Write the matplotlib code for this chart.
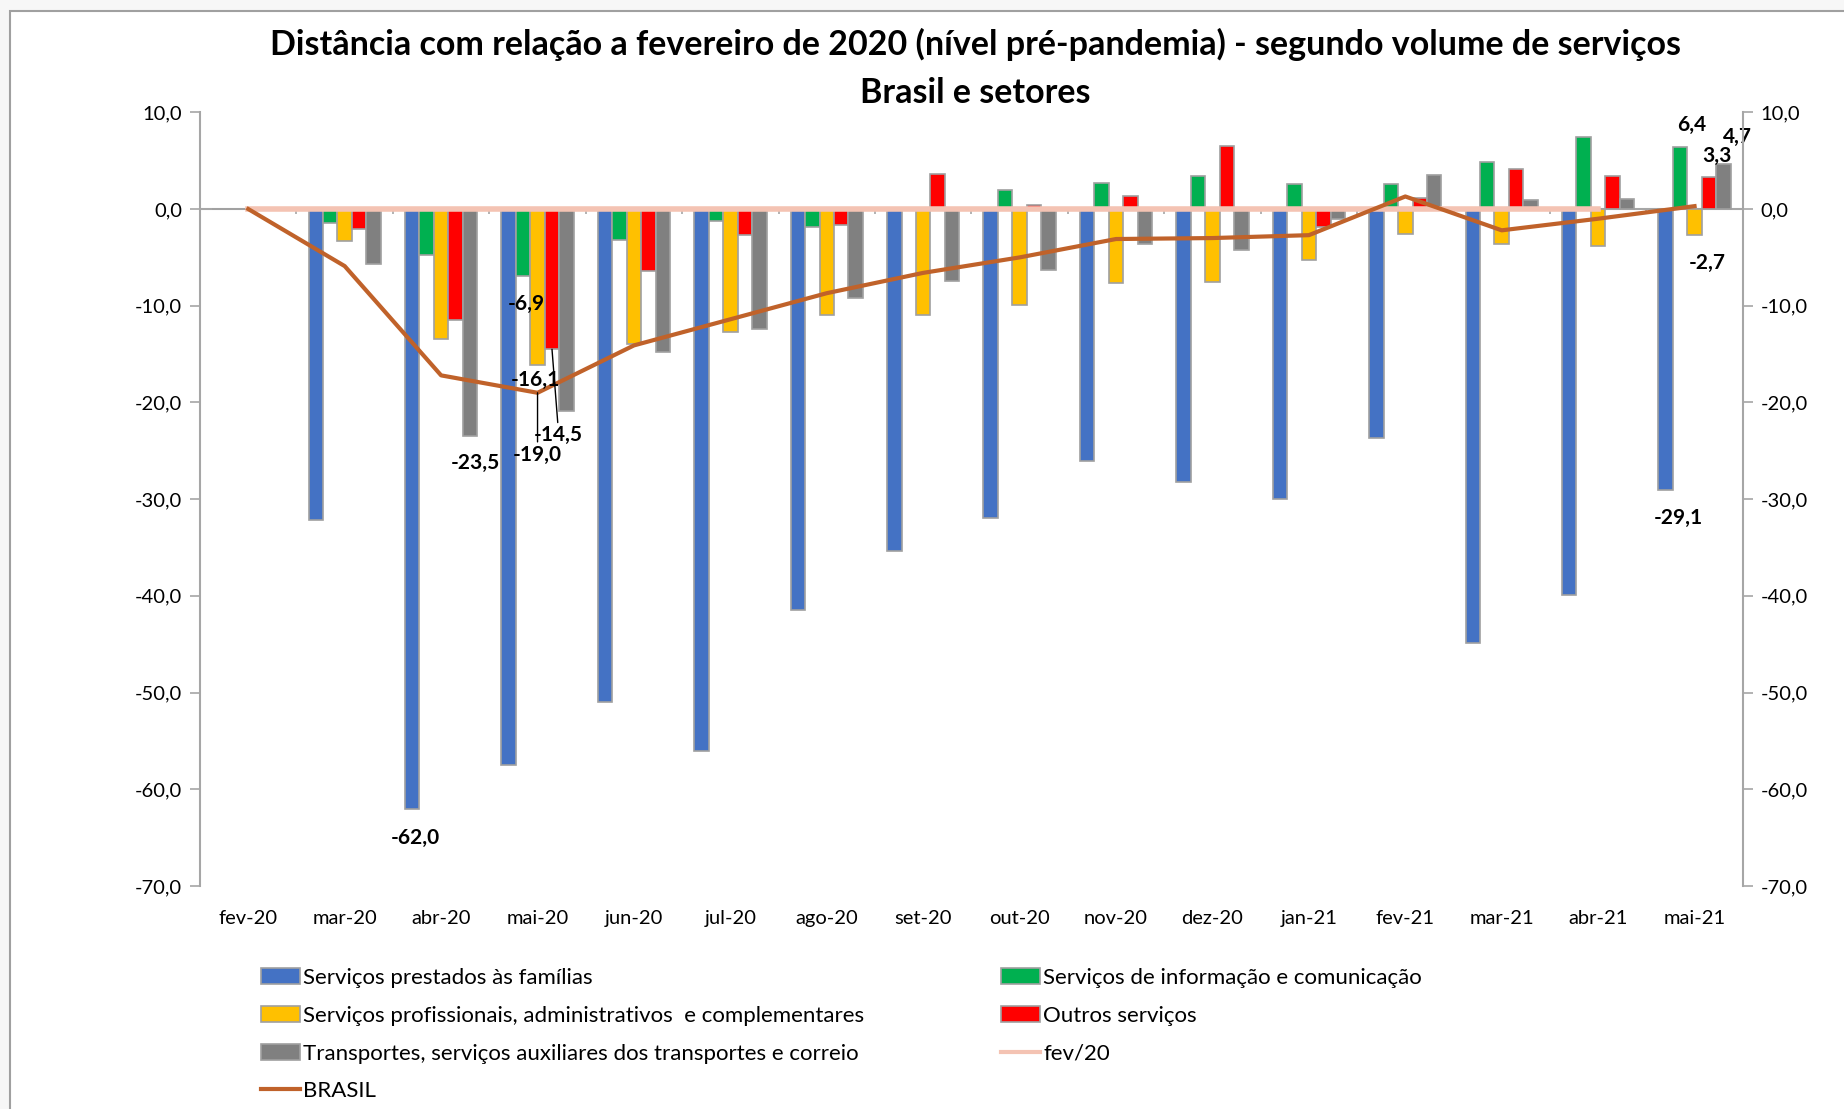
import matplotlib
matplotlib.use('Agg')
import matplotlib.pyplot as plt
import numpy as np
from matplotlib.patches import Rectangle, Patch
from matplotlib.lines import Line2D

plt.rcParams['font.family'] = ['Lato', 'DejaVu Sans']

months = ['fev-20', 'mar-20', 'abr-20', 'mai-20', 'jun-20', 'jul-20', 'ago-20', 'set-20',
          'out-20', 'nov-20', 'dez-20', 'jan-21', 'fev-21', 'mar-21', 'abr-21', 'mai-21']

familias = [0, -32.2, -62.0, -57.5, -51.0, -56.0, -41.5, -35.4, -31.9, -26.1, -28.2, -30.0, -23.7, -44.9, -39.9, -29.1]
informacao = [0, -1.4, -4.8, -6.9, -3.2, -1.2, -1.9, -0.1, 2.0, 2.7, 3.4, 2.6, 2.6, 4.9, 7.5, 6.4]
profissionais = [0, -3.3, -13.4, -16.1, -14.0, -12.7, -11.0, -11.0, -9.9, -7.6, -7.5, -5.3, -2.6, -3.6, -3.8, -2.7]
outros = [0, -2.1, -11.5, -14.5, -6.4, -2.7, -1.7, 3.6, 0.45, 1.3, 6.5, -1.9, 1.1, 4.1, 3.45, 3.3]
transportes = [0, -5.7, -23.5, -20.9, -14.8, -12.4, -9.2, -7.4, -6.3, -3.6, -4.2, -1.0, 3.55, 0.9, 1.0, 4.7]
brasil = [0, -5.9, -17.2, -19.0, -14.1, -11.4, -8.7, -6.6, -5.0, -3.1, -3.0, -2.7, 1.3, -2.2, -1.0, 0.3]
fev20 = [0] * 15

series_names = ['Serviços prestados às famílias',
                'Serviços de informação e comunicação',
                'Serviços profissionais, administrativos  e complementares',
                'Outros serviços',
                'Transportes, serviços auxiliares dos transportes e correio']
series_vals = [familias, informacao, profissionais, outros, transportes]
series_colors = ['#4472C4', '#00B050', '#FFC000', '#FF0000', '#808080']
BRASIL_COLOR = '#C0622A'
FEV_COLOR = '#F4C3B3'
AXIS_GRAY = '#A6A6A6'

# data labels: (series index, month index, dx, dy, leader line)
# series index 5 = BRASIL line
labels = [(0, 2, 0.03, -3.0, False),
          (4, 2, 0.06, -2.8, False),
          (1, 3, 0.03, -2.9, False),
          (2, 3, -0.02, -1.6, False),
          (3, 3, 0.07, -8.9, True),
          (5, 3, 0.0, -6.4, True),
          (0, 15, 0.13, -2.85, False),
          (1, 15, 0.12, 2.3, False),
          (2, 15, 0.13, -2.85, False),
          (3, 15, 0.08, 2.2, False),
          (4, 15, 0.14, 2.8, False)]

W = 0.15

fig = plt.figure(figsize=(18.44, 11.09), dpi=100, facecolor='#F7F7F7')
fig.patches.append(Rectangle((10 / 1844, -0.05), 2, 1 - 11 / 1109 + 0.05, transform=fig.transFigure,
                             facecolor='white', edgecolor='#A0A0A0', lw=1.5, zorder=-10))

ax = fig.add_axes([0.1085, 0.2011, 0.9451 - 0.1085, 0.8987 - 0.2011])
ax.set_facecolor('none')
x = np.arange(len(months))

ax.axhline(0, color=AXIS_GRAY, lw=1.5, zorder=1)
ax.vlines(x[:-1] + 0.5, -0.5, 0, color=AXIS_GRAY, lw=1.2, zorder=1)

for k, (vals, col) in enumerate(zip(series_vals, series_colors)):
    ax.bar(x + (k - 2) * W, vals, W, color=col, edgecolor='#A0A0A0', lw=1.2, zorder=2)

ax.plot(x[:len(fev20)], fev20, color=FEV_COLOR, lw=4, zorder=3)
ax.plot(x, brasil, color=BRASIL_COLOR, lw=3, zorder=4)

for s, i, dx, dy, leader in labels:
    if s == 5:
        v = brasil[i]
        bx = x[i]
    else:
        v = series_vals[s][i]
        bx = x[i] + (s - 2) * W
    txt = f'{v:.1f}'.replace('.', ',')
    if leader:
        ax.annotate(txt, xy=(bx, v), xytext=(bx + dx, v + dy), ha='center', va='center',
                    fontsize=15, fontweight='bold', zorder=6,
                    arrowprops=dict(arrowstyle='-', color='black', lw=1, shrinkA=0, shrinkB=0))
    else:
        ax.text(bx + dx, v + dy, txt, ha='center', va='center', fontsize=15,
                fontweight='bold', zorder=6)

yt = np.arange(-70, 11, 10)
ax.set_xlim(-0.5, 15.5)
ax.set_ylim(-70, 10)
ax.set_yticks(yt)
ax.set_yticklabels([f'{v:.1f}'.replace('.', ',') for v in yt], fontsize=14.5)
ax.set_xticks(x)
ax.set_xticklabels(months, fontsize=14.5)
ax.tick_params(axis='x', length=0, pad=17)
ax.tick_params(axis='y', length=7, width=1.2, color=AXIS_GRAY, pad=6)
for sp in ['top', 'right', 'bottom']:
    ax.spines[sp].set_visible(False)
ax.spines['left'].set_color(AXIS_GRAY)
ax.spines['left'].set_linewidth(1.5)

ax2 = ax.twinx()
ax2.set_ylim(-70, 10)
ax2.set_yticks(yt)
ax2.set_yticklabels([f'{v:.1f}'.replace('.', ',') for v in yt], fontsize=14.5)
ax2.tick_params(axis='y', length=7, width=1.2, color=AXIS_GRAY, pad=6)
for sp in ['top', 'left', 'bottom']:
    ax2.spines[sp].set_visible(False)
ax2.spines['right'].set_color(AXIS_GRAY)
ax2.spines['right'].set_linewidth(1.5)

fig.text(0.529, 0.9595, 'Distância com relação a fevereiro de 2020 (nível pré-pandemia) - segundo volume de serviços',
         ha='center', va='center', fontsize=24.5, fontweight='bold')
fig.text(0.529, 0.916, 'Brasil e setores', ha='center', va='center', fontsize=24.5, fontweight='bold')

patch = lambda c: Patch(facecolor=c, edgecolor='#A0A0A0', lw=1.2)
h1 = [patch(series_colors[0]), patch(series_colors[2]), patch(series_colors[4]),
      Line2D([], [], color=BRASIL_COLOR, lw=3)]
l1 = [series_names[0], series_names[2], series_names[4], 'BRASIL']
h2 = [patch(series_colors[1]), patch(series_colors[3]), Line2D([], [], color=FEV_COLOR, lw=3)]
l2 = [series_names[1], series_names[3], 'fev/20']

leg_kw = dict(frameon=False, fontsize=16, borderpad=0, borderaxespad=0, handletextpad=0.15,
              labelspacing=0.8, handlelength=1.75, handleheight=0.75)
fig.legend(h1, l1, loc='upper left', bbox_to_anchor=(261 / 1844, 1 - 968 / 1109), **leg_kw)
fig.legend(h2, l2, loc='upper left', bbox_to_anchor=(1001 / 1844, 1 - 968 / 1109), **leg_kw)

fig.savefig('out.png', dpi=100, facecolor=fig.get_facecolor())
